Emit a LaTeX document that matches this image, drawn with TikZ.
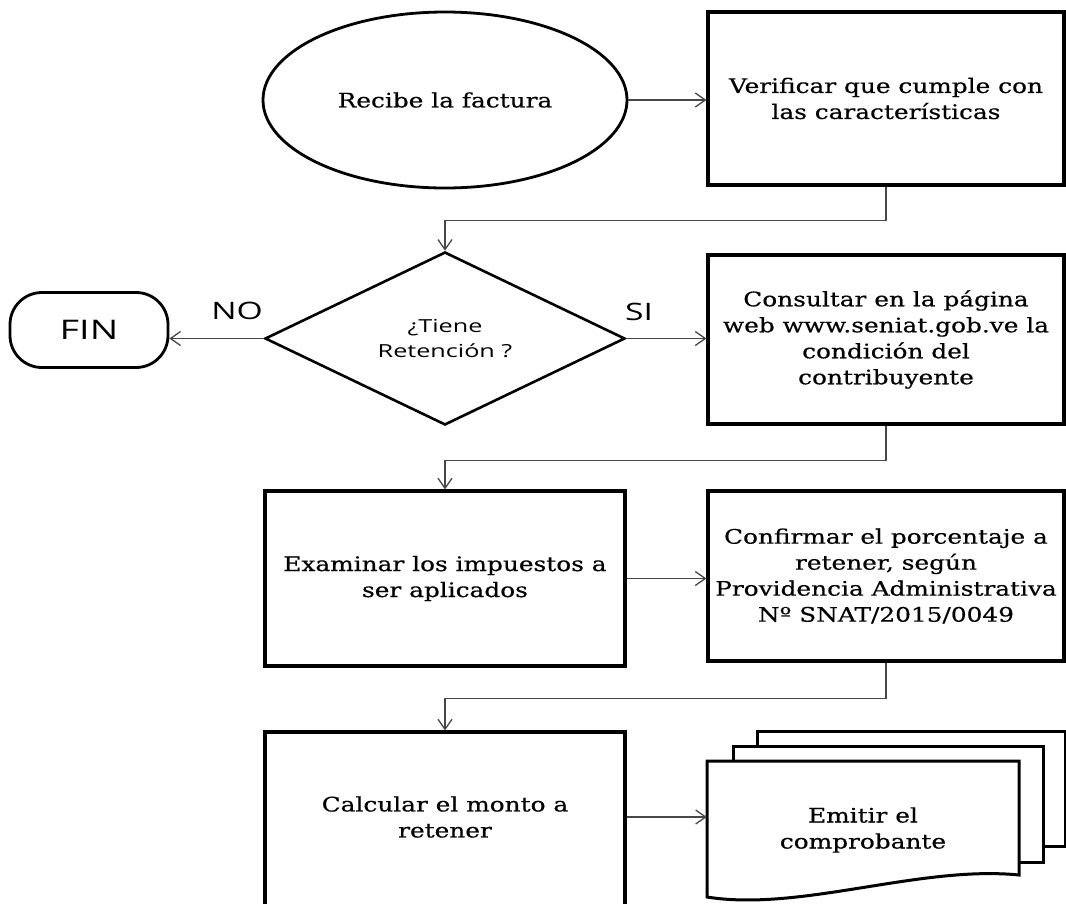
\documentclass[tikz,border=0pt]{standalone}
\usepackage{fontspec}
\setmainfont{DejaVu Serif}[FakeStretch=1.24,FakeBold=0.5]
\newfontfamily\osans{Open Sans}[FakeStretch=1.4]
\usetikzlibrary{shapes.geometric,arrows.meta}
\begin{document}
\begin{tikzpicture}[x=1pt,y=-1pt,
  box/.style={draw, line width=3.2pt, inner sep=0pt, align=center, font=\fontsize{20}{26}\selectfont},
  txt/.style={inner sep=0pt, align=center, font=\fontsize{20}{26}\selectfont},
  conn/.style={draw=black!72, line width=1.3pt, -{Straight Barb[length=10pt,width=14pt]}},
  lbl/.style={font=\osans\fontsize{24}{28}\selectfont, inner sep=0pt},
  docsh/.style={draw, line width=3pt, fill=white},
]
\useasboundingbox (0,0) rectangle (1066,903);
\clip (0,0) rectangle (1066,903);

% nodes
\node[ellipse, draw, line width=2.8pt, minimum width=364pt, minimum height=176pt, inner sep=0pt,
      font=\fontsize{20}{26}\selectfont] (e) at (445,100) {Recibe la factura};
\node[box, minimum width=356pt, minimum height=173pt] (b1) at (886,98.5)
  {Verificar que cumple con\\las características};
\node[diamond, draw, line width=2.6pt, minimum width=360pt, minimum height=173pt, inner sep=0pt,
      aspect=2, align=center, font=\osans\fontsize{18}{25}\selectfont] (d) at (445,338.5)
  {¿Tiene\\Retención ?};
\node[draw, rounded corners=32pt, line width=2.8pt, minimum width=158pt, minimum height=75pt,
      inner sep=0pt, font=\osans\fontsize{27}{30}\selectfont] (fin) at (89,330) {FIN};
\node[box, minimum width=356pt, minimum height=169pt] (b2) at (886,339.5)
  {Consultar en la página\\web www.seniat.gob.ve la\\condición del\\contribuyente};
\node[box, minimum width=360pt, minimum height=175pt] (b3) at (445,578.5)
  {Examinar los impuestos a\\ser aplicados};
\node[box, minimum width=356pt, minimum height=170pt] (b4) at (886,576)
  {Confirmar el porcentaje a\\retener, según\\Providencia Administrativa\\Nº SNAT/2015/0049};
\node[box, minimum width=360pt, minimum height=180pt] (b5) at (445,822) {};
\node[txt] (b5t) at (445,817) {Calcular el monto a\\retener};

% multi-document
\draw[docsh] (757,846) -- (757,731) -- (1065,731) -- (1065,846) -- cycle;
\draw[docsh] (733,862) -- (733,746) -- (1043,746) -- (1043,862) -- cycle;
\draw[docsh] (707,897) -- (707,761) -- (1019,761) -- (1019,875)
  .. controls (920,865) and (800,912) .. cycle;
\node[txt, minimum width=312pt] (doc) at (863,830) {Emitir el\\comprobante};

% labels
\node[lbl] (no) at (237,311) {NO};
\node[lbl] (si) at (639,312) {SI};

% connectors
\draw[conn] (e.east) -- (b1.west |- e.east);
\draw[conn] (b1.south) -- ++(0,34) -| (d.north);
\draw[conn] (d.west) -- (fin.east |- d.west);
\draw[conn] (d.east) -- (b2.west |- d.east);
\draw[conn] (b2.south) -- ++(0,35) -| (b3.north);
\draw[conn] (b3.east) -- (b4.west |- b3.east);
\draw[conn] (b4.south) -- ++(0,36) -| (b5.north);
\draw[conn] (b5t -| b5.east) -- (b5t -| doc.west);
\end{tikzpicture}
\end{document}
